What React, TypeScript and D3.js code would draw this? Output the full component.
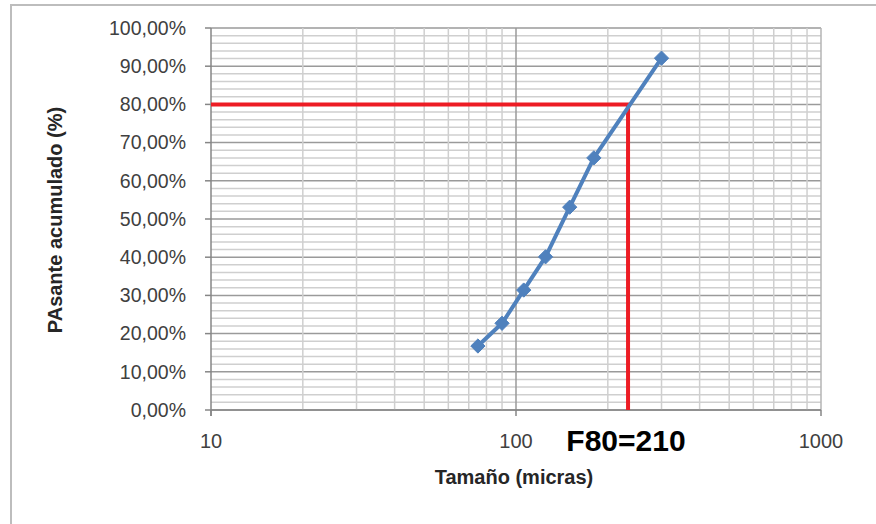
import React from 'react';
import * as d3 from 'd3';

// Tamaño (micras) vs % pasante acumulado
const sizes = [75, 90, 106, 125, 150, 180, 300];
const passing = [16.75, 22.7, 31.4, 40.1, 53.1, 66.0, 92.1];

const yMajorTicks = [0, 10, 20, 30, 40, 50, 60, 70, 80, 90, 100];
const xMajorTicks = [10, 100, 1000];

// F80 guide
const f80Pct = 80;
const f80Pos = 233;
const f80Label = 'F80=210';

const width = 876;
const height = 524;
const margin = { top: 28, right: 55, bottom: 114, left: 211 };

const App = () => {
  const x = d3.scaleLog().domain([10, 1000]).range([margin.left, width - margin.right]);
  const y = d3.scaleLinear().domain([0, 100]).range([height - margin.bottom, margin.top]);

  const yMinor = d3.range(0, 100.01, 2);
  const xMinor = [
    ...d3.range(20, 100, 10),
    ...d3.range(200, 1000, 100),
  ];

  const line = d3.line<number>()
    .x((d, i) => x(sizes[i]))
    .y(d => y(d));

  const fmt = (v: number) => v.toFixed(2).replace('.', ',') + '%';
  const font = '"Liberation Sans", Arial, sans-serif';

  const x0 = x(10), x1 = x(1000), y0 = y(0), y1 = y(100);

  return (
    <svg
      width={width}
      height={height}
      style={{ position: 'absolute', left: 0, top: 0, background: '#fff' }}
      fontFamily={font}
    >
      {/* chart border */}
      <rect x={11} y={5} width={900} height={600} fill="none" stroke="#bdbdbd" strokeWidth={2} />

      {/* gridlines */}
      {yMinor.map(v => (
        <line key={'ym' + v} x1={x0} x2={x1} y1={y(v)} y2={y(v)}
          stroke={v % 10 === 0 ? '#9a9a9a' : '#cfcfcf'} strokeWidth={1.5} />
      ))}
      {xMinor.map(v => (
        <line key={'xm' + v} x1={x(v)} x2={x(v)} y1={y1} y2={y0} stroke="#cfcfcf" strokeWidth={1.5} />
      ))}
      <line x1={x(100)} x2={x(100)} y1={y1} y2={y0} stroke="#9a9a9a" strokeWidth={1.5} />
      <line x1={x1} x2={x1} y1={y1} y2={y0} stroke="#b5b5b5" strokeWidth={1.5} />

      {/* axes */}
      <line x1={x0} x2={x0} y1={y1} y2={y0 + 6} stroke="#868686" strokeWidth={1.5} />
      <line x1={x0} x2={x1} y1={y0} y2={y0} stroke="#868686" strokeWidth={1.5} />
      {yMajorTicks.map(v => (
        <g key={'yt' + v}>
          <line x1={x0 - 6} x2={x0} y1={y(v)} y2={y(v)} stroke="#868686" strokeWidth={1.5} />
          <text x={x0 - 25} y={y(v)} dy="0.35em" textAnchor="end" fontSize={19.5} fill="#404040">
            {fmt(v)}
          </text>
        </g>
      ))}
      {xMajorTicks.map(v => (
        <g key={'xt' + v}>
          <line x1={x(v)} x2={x(v)} y1={y0} y2={y0 + 6} stroke="#868686" strokeWidth={1.5} />
          <text x={x(v)} y={y0 + 38} textAnchor="middle" fontSize={20} fill="#404040">
            {v}
          </text>
        </g>
      ))}

      {/* F80 guide */}
      <path
        d={`M${x0},${y(f80Pct)}H${x(f80Pos)}V${y0}`}
        fill="none" stroke="#ed1c24" strokeWidth={4}
      />

      {/* series */}
      <path d={line(passing) || ''} fill="none" stroke="#4f81bd" strokeWidth={4} strokeLinejoin="round" />
      {passing.map((v, i) => (
        <path key={'pt' + i}
          d={d3.symbol().type(d3.symbolDiamond2).size(130)() || ''}
          transform={`translate(${x(sizes[i])},${y(v)})`}
          fill="#4f81bd" stroke="#4f81bd" strokeWidth={1} />
      ))}

      <text x={626} y={451} textAnchor="middle" fontSize={30} fontWeight="bold" fill="#000">
        {f80Label}
      </text>

      <text x={514} y={484} textAnchor="middle" fontSize={20} fontWeight="bold" fill="#262626">
        Tamaño (micras)
      </text>
      <text
        transform={`translate(62,${(y0 + y1) / 2 + 1}) rotate(-90)`}
        textAnchor="middle" fontSize={20} fontWeight="bold" fill="#262626"
      >
        PAsante acumulado (%)
      </text>
    </svg>
  );
};

export default App;
